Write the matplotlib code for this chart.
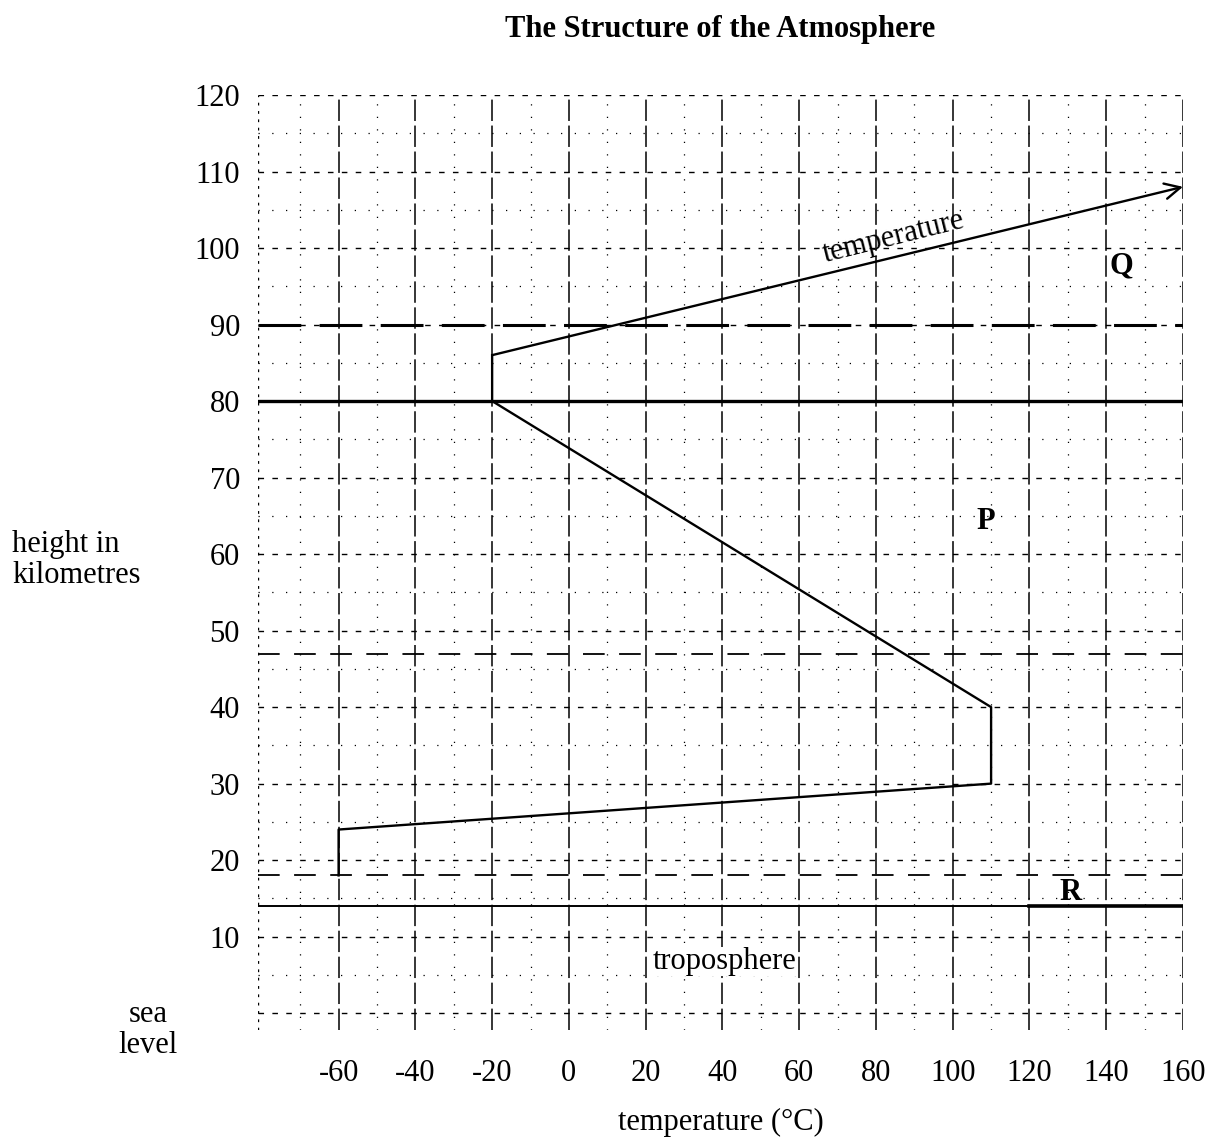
import matplotlib
matplotlib.use("Agg")
import matplotlib.pyplot as plt

# ---- data ----
profile_temp = [-60, -60, 110, 110, -20, -20, 160]
profile_height = [18, 24, 30, 40, 80, 86, 108]

x_ticks = [-60, -40, -20, 0, 20, 40, 60, 80, 100, 120, 140, 160]
y_ticks = [10, 20, 30, 40, 50, 60, 70, 80, 90, 100, 110, 120]
x_minor = [-70, -50, -30, -10, 10, 30, 50, 70, 90, 110, 130, 150]
y_minor = [5, 15, 25, 35, 45, 55, 65, 75, 85, 95, 105, 115]

tropopause_height = 14
boundary_dashed_low = 18
boundary_dashed_mid = 47
mesopause_height = 80
boundary_dashed_high = 90

plt.rcParams['font.family'] = ['Liberation Serif', 'DejaVu Serif']
FS = 22

W, H = 1217, 1145
fig = plt.figure(figsize=(W / 100, H / 100), dpi=100)
ax = fig.add_axes([258 / W, 1 - 1030 / H, (1183 - 258) / W, (1030 - 95) / H])
ax.set_xlim(-81, 160)
ax.set_ylim(-2.2, 120)
for s in ax.spines.values():
    s.set_visible(False)

# grid
for x in x_ticks:
    ax.axvline(x, color='black', lw=1.1, ls=(0, (14, 3)), zorder=1)
for x in x_minor:
    ax.axvline(x, color='black', lw=0.9, ls=(0, (1, 9)), zorder=1)
ax.axvline(-81, color='black', lw=1.0, ls=(0, (2, 4)), zorder=1)
for y in [0] + y_ticks:
    ax.axhline(y, color='black', lw=1.0, ls=(0, (4, 6)), zorder=1)
for y in y_minor:
    ax.axhline(y, color='black', lw=0.9, ls=(0, (1, 10)), zorder=1)

# layer boundaries
ax.axhline(mesopause_height, color='black', lw=2.4, zorder=3)
ax.axhline(boundary_dashed_high, color='black', lw=2.2, ls=(0, (14, 6)), zorder=3)
ax.axhline(boundary_dashed_mid, color='black', lw=1.3, ls=(0, (12, 8)), zorder=3)
ax.axhline(boundary_dashed_low, color='black', lw=1.3, ls=(0, (12, 8)), zorder=3)
ax.axhline(tropopause_height, color='black', lw=1.4, zorder=3)
ax.plot([120, 160], [tropopause_height, tropopause_height], color='black', lw=2.6, zorder=3)

# temperature profile
ax.plot(profile_temp[:-1], profile_height[:-1], color='black', lw=1.7, zorder=4)
ax.annotate('', xy=(profile_temp[-1], profile_height[-1]),
            xytext=(profile_temp[-2], profile_height[-2]),
            arrowprops=dict(arrowstyle='->', color='black', lw=1.7,
                            mutation_scale=28, shrinkA=0, shrinkB=0), zorder=4)

# labels
ax.text(85, 100.4, 'temperature', rotation=14, rotation_mode='anchor', fontsize=FS,
        ha='center', va='baseline', zorder=5)
ax.text(144, 97.6, 'Q', fontsize=FS, fontweight='bold', ha='center', va='center', zorder=5)
ax.text(108.6, 64.2, 'P', fontsize=FS, fontweight='bold', ha='center', va='center', zorder=5)
ax.text(130.7, 15.8, 'R', fontsize=FS, fontweight='bold', ha='center', va='center', zorder=5)
ax.text(40.5, 6.7, 'troposphere', fontsize=FS, ha='center', va='center', zorder=5,
        bbox=dict(facecolor='white', edgecolor='none', pad=0))

ax.set_xticks(x_ticks)
ax.set_xticklabels([str(v) for v in x_ticks])
ax.set_yticks(y_ticks)
ax.set_yticklabels([str(v) for v in y_ticks])
ax.tick_params(axis='both', length=0, labelsize=FS)
ax.tick_params(axis='y', pad=13)
ax.tick_params(axis='x', pad=21)

ax.set_xlabel('temperature (°C)', fontsize=FS, labelpad=14)

fig.text(720 / W, 1 - 30 / H, 'The Structure of the Atmosphere', fontsize=FS,
         fontweight='bold', ha='center', va='center')
fig.text(12 / W, 1 - 560 / H, 'height in\nkilometres', fontsize=FS, ha='left', va='center',
         linespacing=1.1)
fig.text(148 / W, 1 - 1030 / H, 'sea\nlevel', fontsize=FS, ha='center', va='center',
         linespacing=1.1)

fig.savefig('out.png', dpi=100)
